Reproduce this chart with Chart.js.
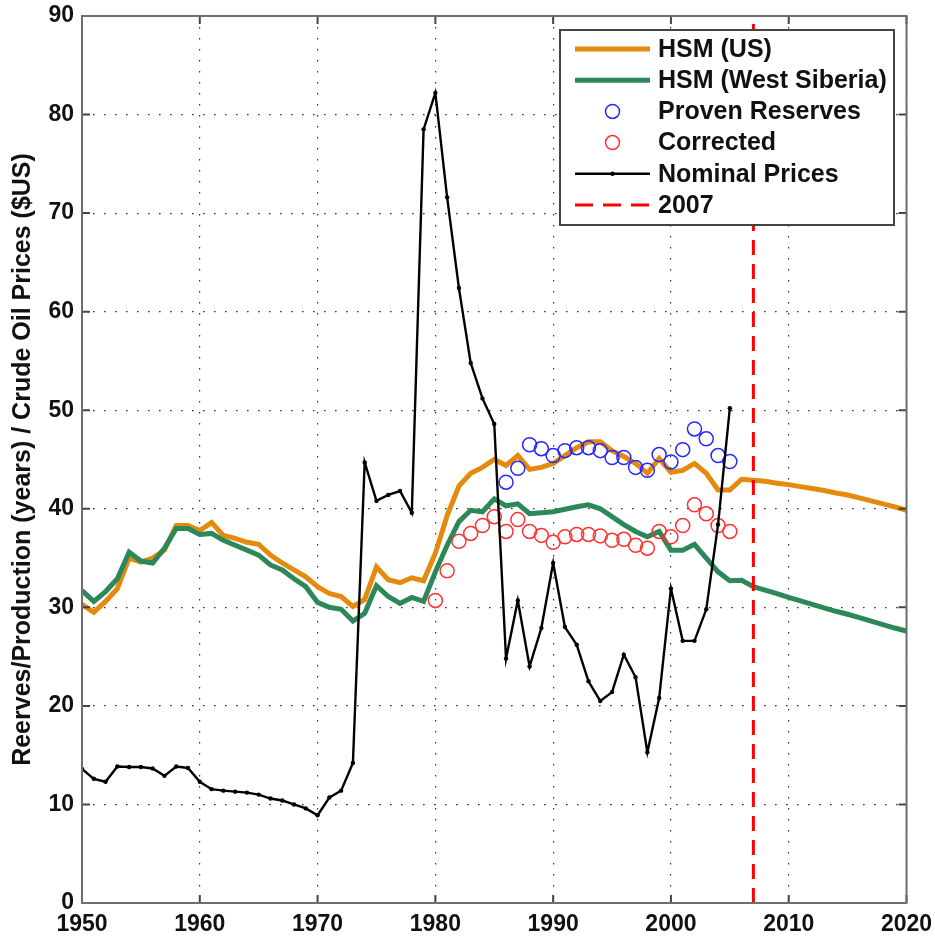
<!DOCTYPE html>
<html><head><meta charset="utf-8">
<script src="https://cdn.jsdelivr.net/npm/chart.js@4.4.1/dist/chart.umd.min.js"></script>
<style>html,body{margin:0;padding:0;background:#fff}#wrap{width:935px;height:940px;position:relative}</style>
</head><body><div id="wrap"><canvas id="c" width="935" height="940"></canvas></div>
<script>
// ---- data ----
const xTickValues = [1950, 1960, 1970, 1980, 1990, 2000, 2010, 2020];
const yTickValues = [0, 10, 20, 30, 40, 50, 60, 70, 80, 90];

const hsmFirstYear = 1950;
const hsmUS = [
  30.3, 29.5, 30.6, 31.9, 35.0, 34.6, 35.0, 35.8, 38.3, 38.3,
  37.8, 38.6, 37.3, 37.0, 36.6, 36.4, 35.3, 34.5, 33.8, 33.1,
  32.1, 31.4, 31.1, 30.1, 30.8, 34.1, 32.8, 32.5, 33.0, 32.7,
  35.5, 39.3, 42.3, 43.6, 44.2, 45.0, 44.4, 45.4, 44.0, 44.2,
  44.6, 45.4, 46.2, 46.8, 46.8, 45.9, 45.3, 44.6, 43.6, 45.1,
  43.7, 43.9, 44.6, 43.6, 41.9, 41.9, 43.0, 42.9, 42.8, 42.6,
  42.45, 42.25, 42.05, 41.85, 41.6, 41.4, 41.1, 40.8, 40.5, 40.2, 39.85
];
const hsmWestSiberia = [
  31.7, 30.6, 31.6, 32.9, 35.6, 34.7, 34.5, 36.0, 38.0, 38.0,
  37.4, 37.5, 36.8, 36.3, 35.8, 35.3, 34.3, 33.8, 32.9, 32.1,
  30.5, 30.0, 29.8, 28.6, 29.4, 32.2, 31.1, 30.4, 31.0, 30.6,
  33.6, 36.3, 38.7, 39.85, 39.7, 41.0, 40.3, 40.5, 39.5, 39.6,
  39.7, 39.95, 40.2, 40.4, 40.0, 39.2, 38.4, 37.7, 37.15, 37.7,
  35.8, 35.8, 36.4, 35.0, 33.6, 32.7, 32.75, 32.1, 31.75, 31.4,
  31.0, 30.65, 30.3, 29.95, 29.6, 29.3, 28.95, 28.6, 28.25, 27.9, 27.6
];

const provenFirstYear = 1986;
const provenReserves = [
  42.7, 44.1, 46.5, 46.1, 45.4, 45.9, 46.2, 46.2, 45.9, 45.2,
  45.2, 44.2, 43.9, 45.5, 44.75, 46.0, 48.1, 47.1, 45.4, 44.8
];

const correctedFirstYear = 1980;
const corrected = [
  30.7, 33.7, 36.7, 37.5, 38.3, 39.2, 37.7, 38.9, 37.7, 37.3,
  36.6, 37.15, 37.4, 37.4, 37.25, 36.8, 36.9, 36.3, 36.0, 37.7,
  37.15, 38.3, 40.4, 39.5, 38.3, 37.7
];

const priceFirstYear = 1950;
const nominalPrices = [
  13.6, 12.6, 12.3, 13.85, 13.8, 13.8, 13.65, 12.9, 13.85, 13.7,
  12.3, 11.55, 11.4, 11.3, 11.2, 11.0, 10.6, 10.4, 10.0, 9.6,
  8.9, 10.7, 11.4, 14.2, 44.7, 40.8, 41.4, 41.8, 39.6, 78.5,
  82.2, 71.6, 62.4, 54.8, 51.2, 48.6, 24.8, 30.7, 24.0, 27.9,
  34.5, 28.0, 26.2, 22.5, 20.5, 21.4, 25.2, 22.9, 15.3, 20.8,
  31.9, 26.6, 26.6, 29.8, 38.4, 50.2
];

const markerYear = 2007;
const markerRange = [0, 90];

const seriesLabels = ['HSM (US)', 'HSM (West Siberia)', 'Proven Reserves', 'Corrected', 'Nominal Prices', '2007'];
const yTitle = 'Reerves/Production (years) / Crude Oil Prices ($US)';

// ---- build ----
const toXY = (first, arr) => arr.map((v, i) => ({x: first + i, y: v}));
const FONT = '"Liberation Sans", Arial, sans-serif';
const ORANGE = 'rgb(228,138,12)';
const GREEN = 'rgb(44,136,88)';
const BLUE = 'rgb(40,40,255)';
const RED = 'rgb(255,50,50)';

const datasets = [
  {label: seriesLabels[0], data: toXY(hsmFirstYear, hsmUS), showLine: true, borderColor: ORANGE, borderWidth: 5, pointRadius: 0, order: 6, kind: 'line'},
  {label: seriesLabels[1], data: toXY(hsmFirstYear, hsmWestSiberia), showLine: true, borderColor: GREEN, borderWidth: 5, pointRadius: 0, order: 5, kind: 'line'},
  {label: seriesLabels[2], data: toXY(provenFirstYear, provenReserves), showLine: false, borderColor: BLUE, backgroundColor: 'rgba(0,0,0,0)', borderWidth: 1.5, pointRadius: 7, order: 4, kind: 'circle'},
  {label: seriesLabels[3], data: toXY(correctedFirstYear, corrected), showLine: false, borderColor: RED, backgroundColor: 'rgba(0,0,0,0)', borderWidth: 1.5, pointRadius: 7, order: 3, kind: 'circle'},
  {label: seriesLabels[4], data: toXY(priceFirstYear, nominalPrices), showLine: true, borderColor: '#000', backgroundColor: '#000', borderWidth: 2.4, pointRadius: 2.2, pointBorderWidth: 0, order: 2, kind: 'dotline'},
  {label: seriesLabels[5], data: markerRange.map(v => ({x: markerYear, y: v})), showLine: true, borderColor: 'rgb(255,0,0)', borderWidth: 3, borderDash: [15, 9], pointRadius: 0, order: 1, kind: 'dash'}
];

const framePlugin = {
  id: 'frame',
  afterDraw(chart) {
    const {ctx, chartArea: a, scales: {x, y}} = chart;
    ctx.save();
    // inner ticks on all four sides
    ctx.strokeStyle = '#444';
    ctx.lineWidth = 2;
    ctx.beginPath();
    xTickValues.forEach(v => {
      const px = x.getPixelForValue(v);
      ctx.moveTo(px, a.bottom); ctx.lineTo(px, a.bottom - 8);
      ctx.moveTo(px, a.top); ctx.lineTo(px, a.top + 8);
    });
    yTickValues.forEach(v => {
      const py = y.getPixelForValue(v);
      ctx.moveTo(a.left, py); ctx.lineTo(a.left + 8, py);
      ctx.moveTo(a.right, py); ctx.lineTo(a.right - 8, py);
    });
    ctx.stroke();
    // box
    ctx.strokeStyle = '#6e6e6e';
    ctx.lineWidth = 2;
    ctx.strokeRect(a.left, a.top, a.right - a.left, a.bottom - a.top);

    // legend
    const L = {x: 560, y: 30, w: 334, h: 195};
    ctx.fillStyle = '#fff';
    ctx.fillRect(L.x, L.y, L.w, L.h);
    ctx.strokeStyle = '#444';
    ctx.lineWidth = 2;
    ctx.strokeRect(L.x, L.y, L.w, L.h);
    const rowH = 31.2;
    const sx0 = 575, sx1 = 650, tx = 658;
    ctx.font = 'bold 25px ' + FONT;
    ctx.textBaseline = 'middle';
    ctx.textAlign = 'left';
    datasets.forEach((ds, i) => {
      const cy = 49 + i * rowH;
      ctx.save();
      if (ds.kind === 'circle') {
        ctx.strokeStyle = ds.borderColor; ctx.lineWidth = 1.5;
        ctx.beginPath(); ctx.arc((sx0 + sx1) / 2, cy, 7, 0, Math.PI * 2); ctx.stroke();
      } else {
        ctx.strokeStyle = ds.borderColor; ctx.lineWidth = ds.borderWidth;
        if (ds.kind === 'dash') ctx.setLineDash([18, 10]);
        ctx.beginPath(); ctx.moveTo(sx0, cy); ctx.lineTo(sx1, cy); ctx.stroke();
        if (ds.kind === 'dotline') {
          ctx.fillStyle = '#000';
          ctx.beginPath(); ctx.arc((sx0 + sx1) / 2, cy, 2.2, 0, Math.PI * 2); ctx.fill();
        }
      }
      ctx.restore();
      ctx.fillStyle = '#111';
      ctx.fillText(ds.label, tx, cy + 1);
    });
    ctx.restore();
  }
};

new Chart(document.getElementById('c'), {
  type: 'scatter',
  data: {datasets},
  options: {
    responsive: false,
    animation: false,
    devicePixelRatio: 1,
    layout: {padding: {top: 16, right: 28.5, left: 0, bottom: 0}},
    plugins: {legend: {display: false}, tooltip: {enabled: false}},
    elements: {line: {tension: 0}},
    scales: {
      x: {
        type: 'linear', min: 1950, max: 2020,
        afterBuildTicks: s => { s.ticks = xTickValues.map(v => ({value: v})); },
        afterFit: s => { s.height = 37; s.paddingLeft = 0; s.paddingRight = 0; },
        ticks: {color: '#111', font: {family: FONT, size: 23, weight: 'bold'}, padding: 8, maxRotation: 0, callback: v => String(v)},
        grid: {color: '#333', lineWidth: 1.2, drawTicks: false},
        border: {display: false, dash: [1.6, 9.4]}
      },
      y: {
        type: 'linear', min: 0, max: 90,
        afterBuildTicks: s => { s.ticks = yTickValues.map(v => ({value: v})); },
        afterFit: s => { s.width = 82; s.paddingTop = 0; s.paddingBottom = 0; },
        ticks: {color: '#111', font: {family: FONT, size: 23, weight: 'bold'}, padding: 8, callback: v => String(v)},
        grid: {color: '#333', lineWidth: 1.2, drawTicks: false},
        border: {display: false, dash: [1.6, 9.4]},
        title: {display: true, text: yTitle, color: '#111', font: {family: FONT, size: 25, weight: 'bold'}, padding: {top: 8, bottom: 0}}
      }
    }
  },
  plugins: [framePlugin]
});
</script>
</body></html>
